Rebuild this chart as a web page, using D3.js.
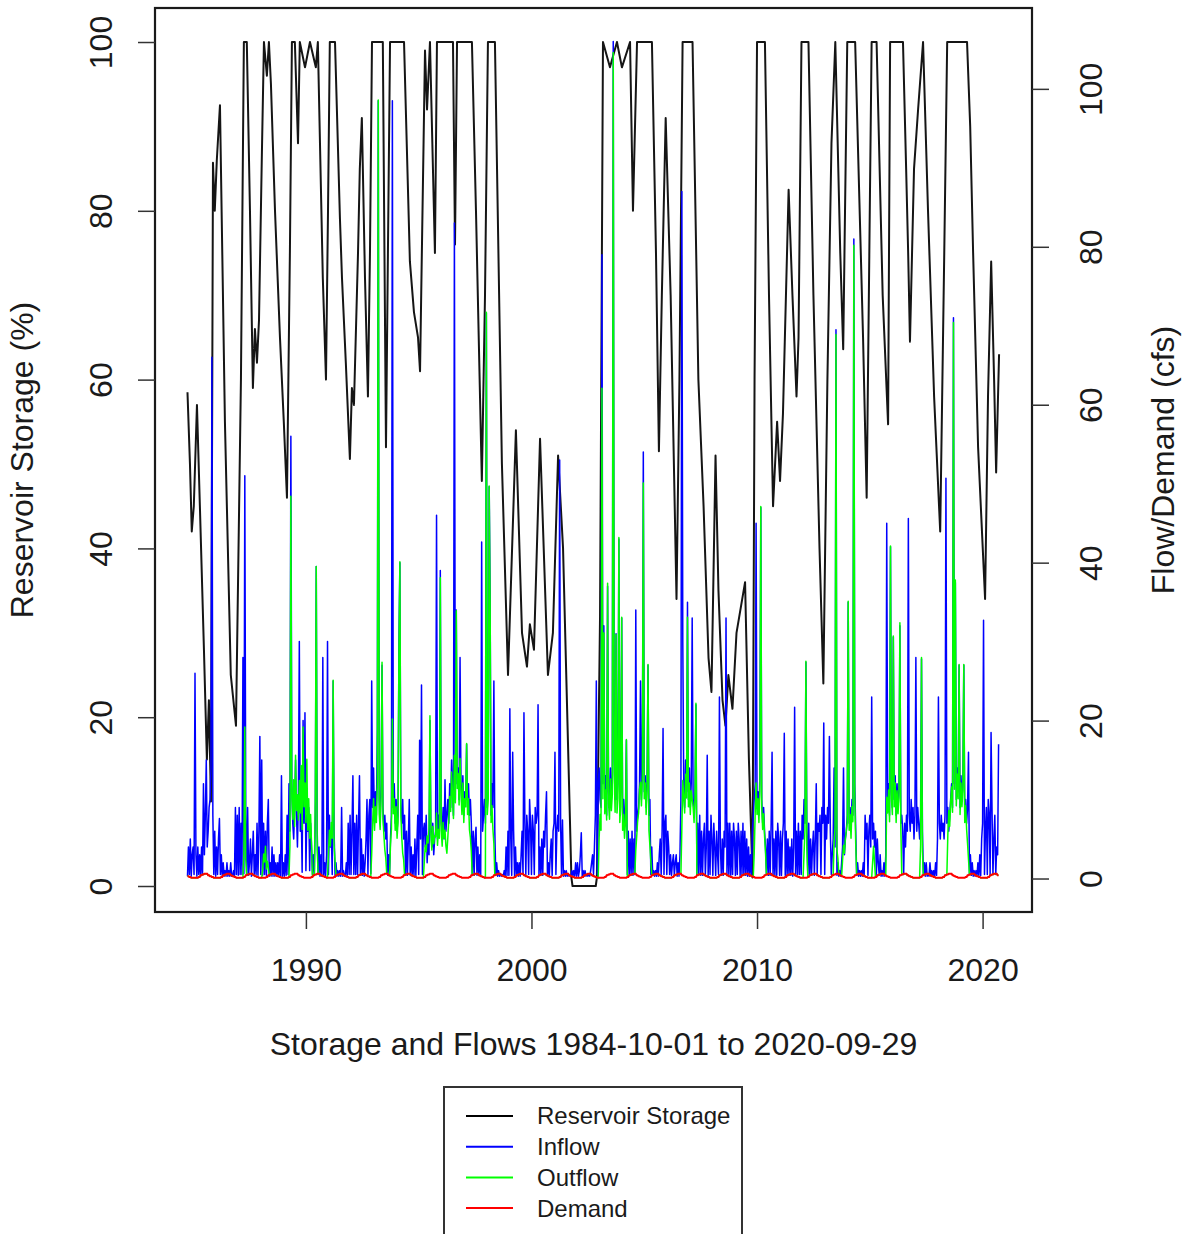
<!DOCTYPE html>
<html>
<head>
<meta charset="utf-8">
<script src="https://cdn.jsdelivr.net/npm/d3@7"></script>
<style>
  body { margin: 0; background: #fff; }
  text { font-family: "Liberation Sans", Arial, Helvetica, sans-serif; fill: #1a1a1a; }
</style>
</head>
<body>
<svg id="chart" width="1185" height="1234"></svg>
<script>
// Reservoir storage (% of capacity) as [decimal year, percent] vertices
const storage = [
  [1984.75,58.5],[1984.86,50],[1984.94,42],[1985.03,45],[1985.17,57],[1985.30,45],[1985.48,28],
  [1985.61,15],[1985.70,22],[1985.79,10],[1985.88,85.7],[1985.96,80],[1986.05,86],[1986.19,92.5],
  [1986.41,55],[1986.67,25],[1986.90,19],[1987.12,60],[1987.25,100],[1987.38,100],[1987.52,80],
  [1987.65,59],[1987.74,66],[1987.83,62],[1987.92,67],[1988.05,87],[1988.14,100],[1988.27,96],
  [1988.36,100],[1988.45,95],[1988.63,80],[1988.85,65],[1989.02,55],[1989.16,46],[1989.29,75],
  [1989.38,100],[1989.51,100],[1989.65,88],[1989.73,100],[1989.96,97],[1990.18,100],[1990.44,97],
  [1990.53,100],[1990.75,72],[1990.89,60],[1990.98,80],[1991.06,100],[1991.29,100],[1991.51,79],
  [1991.60,72],[1991.77,62],[1991.95,50.6],[1992.04,59],[1992.13,57],[1992.31,75],[1992.39,85],
  [1992.48,91],[1992.62,72],[1992.75,58],[1992.84,75],[1992.93,100],[1993.41,100],[1993.55,52],
  [1993.73,100],[1994.35,100],[1994.61,74],[1994.79,68],[1994.97,65],[1995.06,61],[1995.14,75],
  [1995.28,99],[1995.37,92],[1995.50,100],[1995.72,75],[1995.81,100],[1996.52,100],[1996.61,76],
  [1996.70,100],[1997.36,100],[1997.54,80],[1997.80,48],[1997.94,70],[1998.07,100],[1998.38,100],
  [1998.69,50],[1998.96,25],[1999.31,54],[1999.58,30],[1999.80,26],[1999.93,31],[2000.11,28],
  [2000.38,53],[2000.73,25],[2000.95,30],[2001.18,51],[2001.40,40],[2001.77,1.0],[2001.82,0],
  [2002.85,0],[2002.90,1.0],[2003.04,32],[2003.17,100],[2003.48,97],[2003.79,100],[2004.01,97],
  [2004.37,100],[2004.50,80],[2004.68,100],[2005.34,100],[2005.52,75],[2005.65,51.5],[2005.78,70],
  [2005.95,91],[2006.17,70],[2006.43,34],[2006.56,60],[2006.70,100],[2007.14,100],[2007.40,60],
  [2007.63,45],[2007.85,27],[2007.98,23],[2008.16,51],[2008.29,35],[2008.47,22],[2008.60,19],
  [2008.73,25],[2008.91,21],[2009.09,30],[2009.47,36],[2009.64,15],[2009.80,1.0],[2009.89,60],
  [2010.00,100],[2010.35,100],[2010.53,70],[2010.71,45],[2010.89,55],[2011.02,48],[2011.15,56],
  [2011.40,82.5],[2011.57,70],[2011.75,58],[2011.84,65],[2011.97,100],[2012.28,100],[2012.50,70],
  [2012.77,40],[2012.94,24],[2013.12,60],[2013.30,88],[2013.47,100],[2013.69,75],[2013.82,63.6],
  [2014.00,100],[2014.35,100],[2014.70,65],[2014.86,46],[2015.08,100],[2015.30,100],[2015.57,70],
  [2015.81,54.7],[2015.90,100],[2016.47,100],[2016.61,85],[2016.70,75],[2016.78,64.5],[2016.96,85],
  [2017.14,92],[2017.36,100],[2017.58,80],[2017.85,58],[2018.12,42],[2018.30,75],[2018.43,100],
  [2019.31,100],[2019.45,90],[2019.58,75],[2019.80,52],[2020.11,34],[2020.24,58],[2020.38,74],
  [2020.51,60],[2020.60,49],[2020.73,63]
];

// Flows are half-monthly values, one row per water year (Oct 1 .. Sep 15)
const flowStart = 1984.75;
const stepsPerYear = 24;

// Inflow (cfs)
const inflowRows = [
  [0.3,4,0.5,5,0.3,3,4,0.5,26,3,0.3,4,0.5,3,0.3,4,0.5,12,3,8,15,4,6,9],           // WY1985
  [10,14,66,8,0.5,6,0.3,4,0.5,5,7.6,0.5,3,0.3,2,0.3,1,0.3,2,0.3,1,0.3,2,0.3],     // WY1986
  [0.3,1,0.3,9,0.5,8,0.4,9,0.5,7,0.5,28,0.6,51,8,0.5,9,0.4,2,5,0.3,3,6,0.5],      // WY1987
  [3,0.5,7,0.4,6,18,0.5,15,0.4,7,0.5,6,0.4,7,10,0.3,2,0.3,4,0.3,3,0.3,2,0.3],     // WY1988
  [2,0.3,3,0.3,13,0.3,2,0.3,3,0.4,8,0.5,12,6,56,12,7,5,9,15,8,4,10,30],           // WY1989
  [6,9,0.8,20,7,21,1,8,6,9,1,7,4,0.5,3,0.5,8,39.5,6,0.5,4,0.3,3,0.3],             // WY1990
  [28,0.4,2,0.4,3,30,0.5,8,4,6,0.5,25,6,0.4,2,0.3,1,0.3,1,0.3,9,0.3,1,0.3],       // WY1991
  [0.3,2,0.4,7,0.5,8,0.5,6,13,0.5,7,0.5,8,0.5,7,13,0.4,5,0.4,3,0.3,2,5,10],       // WY1992
  [0.5,8,10,0.6,25,9,14,7,11,8,19,98.5,10,7,12,27,9,6,8,5,7,0.4,3,0.5],           // WY1993
  [5,8,98.5,9,12,7,10,6,8,30,40,9,7,10,5,8,0.4,6,0.4,5,10,0.4,4,0.3],             // WY1994
  [3,0.4,5,0.4,4,8,0.5,17.5,5,24.5,0.5,6,7,4,8,2,5,3,20,6,4,7,3,5],               // WY1995
  [6,46,5,8,6,39,7,6,9,5,12.5,6,8,10,7,12,9,15,11,8,83,10,34,12],                 // WY1996
  [14,10,28,12,9,13,8,11,10,17,9,12,8,10,7,0.5,6,0.4,5,6.5,0.4,4,0.4,3],          // WY1997
  [0.4,42.6,6,8,10,7,71.6,9,12,49.6,36,8,12,9,25,6,0.4,2,0.3,1,0.3,0.5,0.3,0.5],  // WY1998
  [0.3,1,0.3,4,0.4,6,0.4,21.5,5,0.4,16,6,0.4,4,0.4,2,0.3,2,0.3,3,6,0.5,21,7],     // WY1999
  [0.5,8,6,0.5,10,7,0.5,8,6,0.5,9,7,8,22,0.5,4,0.4,5,0.4,6,4,8,11,0.4],           // WY2000
  [2,0.3,3,5,0.4,6,7,16,0.5,6,8,6,53,7,0.4,7.4,0.3,1,0.3,1,0.3,0.5,0.3,0.5],      // WY2001
  [0.3,1,0.3,1,0.3,2,0.3,2,0.3,1,3,5.8,0.3,1,0.3,1,0.3,0.5,0.3,0.5,0.3,1,2,3],    // WY2002
  [0.5,4,8,25,0.5,12,14,10,9,79,12,32,10,13,8,37,11,9,14,10,12,106,15,10],        // WY2003
  [31,10,12,43,9,11,33,8,10,7,9,17.5,0.5,6,0.4,5,0.4,6,0.4,5,0.5,34,6,8],         // WY2004
  [9,12,25,10,14,54,11,13,9,12,27,8,10,0.5,4,0.4,1,0.3,1,0.3,2,0.3,3,5],          // WY2005
  [0.5,6,19,0.5,7,8,0.5,6,4,0.5,3,0.4,2,3,0.4,2,3,0.3,2,0.3,3,10,87,30],          // WY2006
  [12,9,15,11,35,10,14,9,12,33,10,8,11,22,0.5,7,0.5,8,0.4,6,0.4,5,7,0.4],         // WY2007
  [4,15.6,0.4,6,0.5,8,5,0.4,7,4,0.4,6,3,0.5,23,4,0.4,5,0.4,6,4,33,0.5,7],         // WY2008
  [0.5,7,0.4,6,0.5,7,5,0.4,6,0.5,7,5,0.4,6,0.5,7,0.4,6,0.4,5,0.3,4,0.3,3],        // WY2009
  [0.4,6,8,10,12,45,9,11,8,13,47,10,7,9,6,4,0.5,5,0.4,6,0.4,7,16,0.4],            // WY2010
  [5,0.4,6,0.4,7,5,0.4,6,0.4,5,7,18.4,0.4,6,0.4,5,0.4,4,0.4,5,0.3,4,21.7,0.5],    // WY2011
  [6,0.5,7,0.5,6,0.5,8,5,10,7,27.4,6,0.5,7,0.4,5,0.4,4,6,0.4,5,12,0.5,7],         // WY2012
  [6,8,0.5,9,7,19.7,0.5,8,5,9,7,18,6,0.5,3,5,14,4,69.5,0.4,2,0.3,1,0.3],          // WY2013
  [2,4,14,3,5,6,8,35,7,9,6,10,8,81,12,6,0.4,2,0.3,1,0.3,1,0.3,2],                 // WY2014
  [0.4,8,5,7,0.4,6,8,4,23,5,7,4,6,0.4,5,2,0.4,3,0.3,1,0.3,2,0.3,3],               // WY2015
  [45,10,12,8,42,11,9,30.6,10,13,8,12,9,11,32,7,8,6,0.5,7,4,8,6,45.6],            // WY2016
  [8,6,10,7,9,5,8,28,6,9,7,5,8,27.8,6,0.4,2,0.3,2,0.3,0.5,0.3,2,0.3],             // WY2017
  [1,0.3,1,0.3,2,0.4,5,23,7,5,8,6,7,5,8,50.7,7,9,6,8,10,12,9,71],                 // WY2018
  [12,37.5,10,14,11,27,9,13,10,12,27,8,10,7,9,16,0.5,3,0.4,2,0.3,1,0.3,1],        // WY2019
  [0.3,2,0.3,3,0.4,5,7,32.7,0.5,6,9,0.5,10,8,0.5,18.5,9,0.5,5,8,0.5,4,3,17]       // WY2020
];

// Spill released on top of the demand release (cfs), when the reservoir is full
const spillRows = [
  [0,0,0,0,0,0,0,0,0,0,0,0,0,0,0,0,0,0,0,0,0,0,0,0],                    // WY1985
  [0,0,0,0,0,0,0,0,0,0,0,0,0,0,0,0,0,0,0,0,0,0,0,0],                    // WY1986
  [0,0,0,0,0,0,0,0,0,0,0,0,3,19,2,0,0,0,0,0,0,0,0,0],                   // WY1987
  [0,0,0,0,0,0,0,0,1,3,2,4,1,2,1,0,0,0,0,0,0,0,0,0],                    // WY1988
  [0,0,0,0,0,0,0,0,0,0,0,0,0,4,48,10,7,12,6,15,8,10,7,12],              // WY1989
  [8,14,6,19,9,12,7,15,6,10,5,8,4,0,0,0,10,39,3,0,0,0,0,0],             // WY1990
  [0,0,0,0,0,0,3,6,4,7,5,25,4,2,0,0,0,0,0,0,0,0,0,0],                   // WY1991
  [0,0,0,0,0,0,0,0,0,0,0,0,0,0,0,0,0,0,0,0,0,0,0,0],                    // WY1992
  [0,0,0,0,3,7,10,6,9,7,12,98.5,8,6,10,27,7,5,3,2,0,0,0,0],             // WY1993
  [4,6,20,8,10,6,9,5,7,29,40,8,5,3,2,0,0,0,0,0,0,0,0,0],                // WY1994
  [0,0,0,0,0,0,0,0,0,0,0,0,2,4,3,5,4,6,20,5,3,6,4,5],                   // WY1995
  [5,8,4,6,5,38,6,4,7,5,6,4,3,5,7,10,8,13,10,7,15,9,33.5,11],           // WY1996
  [13,9,15,11,8,12,7,10,9,17,8,10,6,5,3,0,0,0,0,0,0,0,0,0],             // WY1997
  [0,0,0,0,0,0,71.6,8,10,49.6,35,7,9,6,4,0,0,0,0,0,0,0,0,0],            // WY1998
  [0,0,0,0,0,0,0,0,0,0,0,0,0,0,0,0,0,0,0,0,0,0,0,0],                    // WY1999
  [0,0,0,0,0,0,0,0,0,0,0,0,0,0,0,0,0,0,0,0,0,0,0,0],                    // WY2000
  [0,0,0,0,0,0,0,0,0,0,0,0,0,0,0,0,0,0,0,0,0,0,0,0],                    // WY2001
  [0,0,0,0,0,0,0,0,0,0,0,0,0,0,0,0,0,0,0,0,0,0,0,0],                    // WY2002
  [0,0,0,0,0,0,5,8,6,62,10,31,8,11,7,37,9,7,12,8,10,104,13,8],          // WY2003
  [30.6,8,10,43,7,9,33,6,8,5,7,17.5,0,0,0,0,0,0,0,0,0,3,5,7],           // WY2004
  [8,11,12,9,13,50,10,12,8,11,27,6,4,2,0,0,0,0,0,0,0,0,0,0],            // WY2005
  [0,0,0,0,0,0,0,0,0,0,0,0,0,0,0,0,0,0,0,0,0,0,6,12],                   // WY2006
  [10,8,13,10,33,9,12,8,11,10,9,7,10,22,0,0,0,0,0,0,0,0,0,0],           // WY2007
  [0,0,0,0,0,0,0,0,0,0,0,0,0,0,0,0,0,0,0,0,0,0,0,0],                    // WY2008
  [0,0,0,0,0,0,0,0,0,0,0,0,0,0,0,0,0,0,0,0,0,0,0,0],                    // WY2009
  [0,0,0,3,8,12,8,10,7,11,47,9,6,8,5,3,0,0,0,0,0,0,0,0],                // WY2010
  [0,0,0,0,0,0,0,0,0,0,0,0,0,0,0,0,0,0,0,0,0,0,0,0],                    // WY2011
  [0,0,0,0,0,0,0,0,3,6,27.4,4,0,0,0,0,0,0,0,0,0,0,0,0],                 // WY2012
  [0,0,0,0,0,0,0,0,0,0,0,0,0,0,0,0,4,6,68.3,3,2,0,0,0],                 // WY2013
  [0,2,4,3,5,6,7,35,6,8,5,9,7,80,10,4,0,0,0,0,0,0,0,0],                 // WY2014
  [0,0,0,0,0,0,0,0,0,2,4,2,0,0,0,0,0,0,0,0,0,0,0,0],                    // WY2015
  [10,8,11,7,42,10,8,30.6,9,12,7,11,8,10,32,6,0,0,0,0,0,0,0,0],         // WY2016
  [0,0,0,0,0,0,0,0,0,0,0,0,4,27.8,3,0,0,0,0,0,0,0,0,0],                 // WY2017
  [0,0,0,0,0,0,0,0,0,0,0,0,0,0,0,0,0,5,8,6,9,11,8,70],                  // WY2018
  [11,37.5,9,13,10,27,8,12,9,11,27,7,9,6,4,2,0,0,0,0,0,0,0,0],          // WY2019
  [0,0,0,0,0,0,0,0,0,0,0,0,0,0,0,0,0,0,0,0,0,0,0,0]                     // WY2020
];

// Demand (cfs) by month of the water year, Oct .. Sep
const demandByMonth = [0.3,0.2,0.1,0.1,0.1,0.1,0.2,0.4,0.5,0.6,0.6,0.4];

const xTicks = [1990, 2000, 2010, 2020];
const storageTicks = [0, 20, 40, 60, 80, 100];
const flowTicks = [0, 20, 40, 60, 80, 100];
const legendItems = [
  { label: "Reservoir Storage", color: "#000000" },
  { label: "Inflow", color: "#0000ff" },
  { label: "Outflow", color: "#00ff00" },
  { label: "Demand", color: "#ff0000" }
];

// ---- layout ----
const box = { left: 155, right: 1032, top: 8, bottom: 912 };

const x = d3.scaleLinear().domain([1983.31, 2022.19]).range([box.left, box.right]);
const yStorage = d3.scaleLinear().domain([-3.08, 104.03]).range([box.bottom, box.top]);
const yFlow = d3.scaleLinear().domain([-4.24, 110.24]).range([box.bottom, box.top]);

const svg = d3.select("#chart");

const dates = inflowRows.flat().map((v, i) => flowStart + i / stepsPerYear);
const inflow = inflowRows.flat().map((v, i) => [dates[i], v]);
const demand = dates.map((t, i) => [t, demandByMonth[Math.floor((i % stepsPerYear) / 2)]]);
// total outflow = demand release + spill
const outflow = spillRows.flat().map((v, i) => [dates[i], demand[i][1] + v]);

const plot = svg.append("g");

const storageLine = d3.line().x(d => x(d[0])).y(d => yStorage(d[1]));
const flowLine = d3.line().x(d => x(d[0])).y(d => yFlow(d[1]));

plot.append("path").datum(storage)
  .attr("d", storageLine).attr("fill", "none")
  .attr("stroke", "#151515").attr("stroke-width", 2).attr("stroke-linejoin", "round");

plot.append("path").datum(inflow)
  .attr("d", flowLine).attr("fill", "none")
  .attr("stroke", "#0000ff").attr("stroke-width", 1.5).attr("stroke-linejoin", "round");

plot.append("path").datum(outflow)
  .attr("d", flowLine).attr("fill", "none")
  .attr("stroke", "#00ff00").attr("stroke-width", 1.5).attr("stroke-linejoin", "round");

plot.append("path").datum(demand)
  .attr("d", flowLine).attr("fill", "none")
  .attr("stroke", "#ff0000").attr("stroke-width", 2);

// ---- frame ----
svg.append("rect")
  .attr("x", box.left).attr("y", box.top)
  .attr("width", box.right - box.left).attr("height", box.bottom - box.top)
  .attr("fill", "none").attr("stroke", "#1a1a1a").attr("stroke-width", 2.2);

// ---- axes ----
const fontSize = 32;

const xAxis = svg.append("g")
  .attr("transform", `translate(0,${box.bottom})`)
  .call(d3.axisBottom(x).tickValues(xTicks).tickFormat(d3.format("d")).tickSize(17));
xAxis.select(".domain").remove();
xAxis.selectAll(".tick line").attr("stroke", "#333").attr("stroke-width", 1.5);
xAxis.selectAll(".tick text").attr("font-size", fontSize).attr("fill", "#1a1a1a")
  .attr("y", 69).attr("dy", null);

const leftAxis = svg.append("g")
  .attr("transform", `translate(${box.left},0)`)
  .call(d3.axisLeft(yStorage).tickValues(storageTicks).tickSize(17));
leftAxis.select(".domain").remove();
leftAxis.selectAll(".tick line").attr("stroke", "#333").attr("stroke-width", 1.5);
leftAxis.selectAll(".tick text")
  .attr("font-size", fontSize).attr("fill", "#1a1a1a")
  .attr("text-anchor", "middle").attr("transform", "rotate(-90)")
  .attr("x", 0).attr("y", -43).attr("dy", null);

const rightAxis = svg.append("g")
  .attr("transform", `translate(${box.right},0)`)
  .call(d3.axisRight(yFlow).tickValues(flowTicks).tickSize(17));
rightAxis.select(".domain").remove();
rightAxis.selectAll(".tick line").attr("stroke", "#333").attr("stroke-width", 1.5);
rightAxis.selectAll(".tick text")
  .attr("font-size", fontSize).attr("fill", "#1a1a1a")
  .attr("text-anchor", "middle").attr("transform", "rotate(-90)")
  .attr("x", 0).attr("y", 70).attr("dy", null);

// ---- axis titles ----
svg.append("text")
  .attr("transform", `translate(33,${(box.top + box.bottom) / 2}) rotate(-90)`)
  .attr("text-anchor", "middle").attr("font-size", fontSize)
  .text("Reservoir Storage (%)");

svg.append("text")
  .attr("transform", `translate(1174,${(box.top + box.bottom) / 2}) rotate(-90)`)
  .attr("text-anchor", "middle").attr("font-size", fontSize)
  .text("Flow/Demand (cfs)");

svg.append("text")
  .attr("x", (box.left + box.right) / 2).attr("y", 1055)
  .attr("text-anchor", "middle").attr("font-size", fontSize)
  .text("Storage and Flows 1984-10-01 to 2020-09-29");

// ---- legend ----
const legend = svg.append("g").attr("transform", "translate(444,1087)");
legend.append("rect")
  .attr("x", 0).attr("y", 0).attr("width", 298).attr("height", 170)
  .attr("fill", "#fff").attr("stroke", "#333").attr("stroke-width", 2);

const rows = legend.selectAll("g.item").data(legendItems).join("g")
  .attr("class", "item")
  .attr("transform", (d, i) => `translate(0,${29 + i * 30.7})`);
rows.append("line")
  .attr("x1", 22).attr("x2", 69).attr("y1", 0).attr("y2", 0)
  .attr("stroke", d => d.color).attr("stroke-width", 2);
rows.append("text")
  .attr("x", 93).attr("y", 0).attr("dy", "0.35em")
  .attr("font-size", 24)
  .text(d => d.label);
</script>
</body>
</html>
